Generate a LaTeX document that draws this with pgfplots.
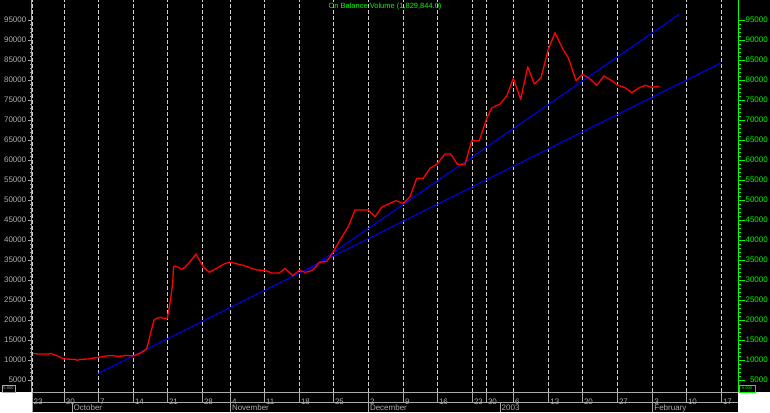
\documentclass[border=0pt]{standalone}
\usepackage{pgfplots}
\pgfplotsset{compat=1.18}
\usepackage{fontspec}
\setmainfont{Liberation Sans}
\definecolor{gridgray}{RGB}{205,205,205}
\definecolor{axgray}{RGB}{170,170,170}
\definecolor{labgray}{RGB}{175,175,175}
\definecolor{obvgreen}{RGB}{0,255,0}
\definecolor{obvred}{RGB}{255,0,0}
\definecolor{obvblue}{RGB}{0,0,255}

\pgfplotstableread{
x y
33 11675
38.3 11500
49.3 11500
50 11675
53.3 11425
57.7 11000
61 10575
64.3 10250
75 10175
77.3 9925
80 10175
89.3 10250
91 10425
96.7 10575
101.7 10825
108.3 11075
114.3 11075
116 10925
123.3 11000
125 11175
130 11075
133.3 11000
140 11675
146 12675
147.3 13325
151 17075
154 20000
156.7 20425
160.7 20675
163.3 20425
167.3 20425
170 24175
172.7 29175
173.5 33250
175 33500
178.3 33175
181.7 32675
185 33175
190 34575
196 36500
202.7 33500
209.3 31925
216.7 32925
223.3 33925
230 34500
237.3 34000
243.3 33675
250 33075
256.7 32500
265 32425
271.7 31750
279.3 31750
285 32925
292.7 31075
299.3 32425
305 31925
310 32175
314 32750
319.3 34425
326.7 34625
333.3 37075
340 40000
348.3 43325
355 47500
368.3 47500
375 45825
381.7 48175
390 49175
396 49825
403.3 49175
410 50825
416.7 55425
423.3 55425
430 57925
436.7 58925
445 61500
450.7 61500
457.3 58925
465 58925
471.7 64825
479.3 64825
486.7 70425
491.7 73000
500 74000
506.7 76000
513.3 80425
520.7 75175
527.7 83325
534.3 79000
541 80575
548.3 87675
555 91825
563.3 87500
568.3 85575
576 79825
582.3 81425
589.3 80425
596.7 78675
604 81000
611.7 79825
617.3 78750
625 78075
631.7 76825
638.3 77925
645 78675
651.7 78175
659 78425
}\obvdata

\pgfplotsset{
  commonax/.style={
    at={(0pt,0pt)}, anchor=south west,
    scale only axis, width=706pt, height=392pt,
    xmin=32, xmax=738, ymin=2000, ymax=100000,
    ytick={5000,10000,...,95000},
    minor y tick num=4,
    tick align=outside,
    /pgf/number format/assume math mode=true,
    /pgf/number format/set thousands separator={},
    /pgf/number format/fixed,
    scaled y ticks=false,
    clip=false,
  }
}

\begin{document}
\begin{tikzpicture}
\fill[black] (-32pt,-20pt) rectangle (738pt,392pt);
\fill[white] (-32pt,-20pt) rectangle (0pt,0pt);
\fill[white] (706pt,-20pt) rectangle (738pt,0pt);
\path[use as bounding box] (-32pt,-20pt) rectangle (738pt,392pt);

\begin{axis}[commonax,
  axis y line*=left, axis x line*=bottom,
  axis line style={axgray, line width=1pt},
  xtick={32,64.3,98.3,133.3,167.3,202.3,230.3,264.3,299.3,333.3,368.3,403.3,437.3,472.3,486.3,513.3,548.7,582.3,617.3,652.7,686.3,721.3},
  xticklabels={23,30,7,14,21,28,4,11,18,25,2,9,16,23,30,6,13,20,27,3,10,17},
  xtick style={draw=none},
  xticklabel style={anchor=north west, inner sep=0pt, xshift=1.5pt, yshift=-2.3pt, labgray, font=\fontsize{8}{8}\selectfont},
  xmajorgrids,
  grid style={gridgray, line width=0.8pt, dash pattern=on 4pt off 2pt},
  major tick length=4pt, minor tick length=2pt,
  ytick style={axgray, line width=0.8pt},
  yticklabel style={anchor=east, inner sep=0pt, xshift=-1.5pt, labgray, font=\fontsize{8}{8}\selectfont},
]
\addplot[obvblue, line width=1pt] coordinates {(98.3,6675) (721.3,84325)};
\addplot[obvblue, line width=1pt] coordinates {(308,32500) (679.3,96425)};
\addplot[obvred, line width=1.3pt, line join=round] table[x=x,y=y] {\obvdata};
\end{axis}

\begin{axis}[commonax,
  axis y line*=right, axis x line=none,
  axis line style={obvgreen, line width=1pt},
  major tick length=7pt, minor tick length=3pt,
  ytick style={obvgreen, line width=0.8pt},
  yticklabel style={anchor=east, inner sep=0pt, obvgreen, xshift=23pt, font=\fontsize{8}{8}\selectfont},
]
\end{axis}

% title
\node[obvgreen, font=\fontsize{7.5}{7.5}\selectfont, anchor=center] at (353pt,385pt) {On Balance Volume (1,829,844.0)};

% bottom date band
\draw[axgray, line width=0.8pt] (0pt,-10pt) -- (706pt,-10pt);
\foreach \xx in {0,32.3,66.3,101.3,135.3,170.3,198.3,232.3,267.3,301.3,336.3,371.3,405.3,440.3,454.3,481.3,516.7,550.3,585.3,620.7,654.3,689.3}
  \draw[axgray, line width=0.8pt] (\xx pt,0pt) -- (\xx pt,-10pt);
\foreach \xx in {0,40,198.3,336.3,468,620.7}
  \draw[axgray, line width=0.8pt] (\xx pt,-10pt) -- (\xx pt,-20pt);
\foreach \xx/\lab in {40/October,198.3/November,336.3/December,468/2003,620.7/February}
  \node[labgray, anchor=base west, inner sep=0pt, font=\fontsize{8}{8}\selectfont] at (\xx pt+1.5pt,-18.7pt) {\lab};

% small scale boxes
\draw[axgray, line width=0.6pt] (-30pt,0pt) rectangle (-17pt,7pt);
\node[labgray, inner sep=0pt, font=\fontsize{4}{4}\selectfont] at (-23.5pt,3.5pt) {5,000};
\draw[obvgreen, line width=0.6pt] (707pt,0pt) rectangle (723pt,7pt);
\node[obvgreen, inner sep=0pt, font=\fontsize{4}{4}\selectfont] at (715pt,3.5pt) {5,000};
\end{tikzpicture}
\end{document}
